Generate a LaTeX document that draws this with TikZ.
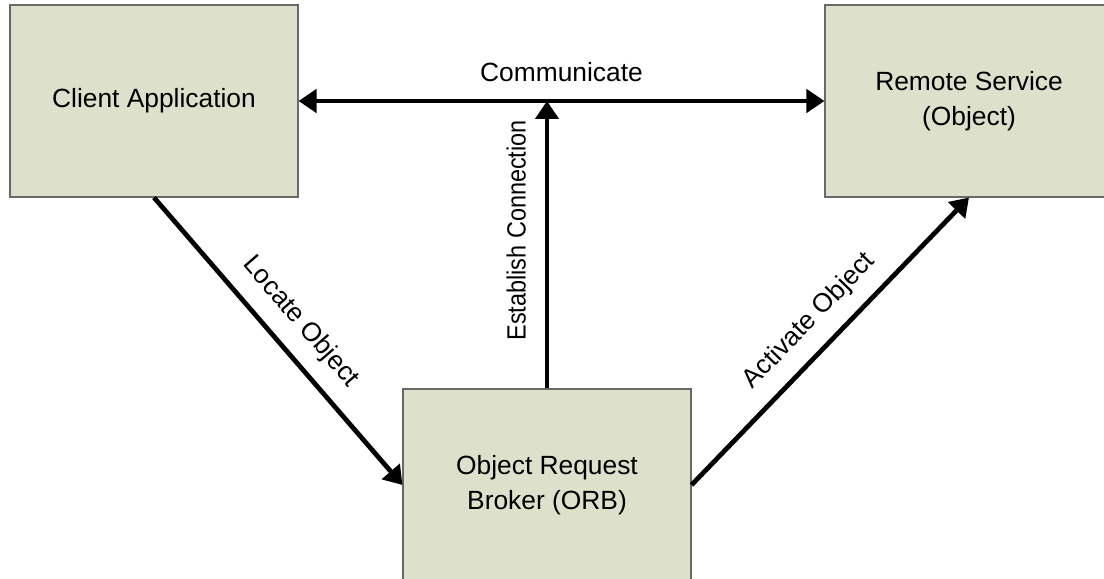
\documentclass[tikz,border=0pt]{standalone}
\usepackage{fontspec}
\setmainfont{Liberation Sans}
\usetikzlibrary{arrows.meta}
\definecolor{boxfill}{RGB}{221,224,203}
\definecolor{boxline}{RGB}{105,105,105}

\begin{document}
\begin{tikzpicture}[
    x=1cm, y=1cm,
    >={Triangle[length=3.6mm,width=4.6mm]},
    block/.style={draw=boxline, line width=0.6pt, fill=boxfill, minimum width=5.76cm, minimum height=3.84cm, align=center, inner sep=0pt, font=\fontsize{15}{20}\selectfont},
    lbl/.style={font=\fontsize{15}{18}\selectfont},
    arr/.style={line width=2.7pt}
  ]
  \useasboundingbox (0,0) rectangle (22.08,11.58);
  \clip (0,0) rectangle (22.08,11.58);
  \node[block] (client) at (3.08,9.56) {Client Application};
  \node[block] (remote) at (19.38,9.56) {Remote Service\\(Object)};
  \node[block] (orb) at (10.94,1.88) {Object Request\\Broker (ORB)};
  \coordinate (meet) at (orb.north |- client.east);
  \draw[arr, <->] (client.east) -- node[lbl, midway, above=2.2mm] {Communicate} (remote.west);
  \draw[arr, ->] (orb.north) -- node[lbl, pos=0.55, sloped, above=2.6mm] {\scalebox{0.89}[1]{Establish Connection}} (meet);
  \draw[arr, ->] (client.south) -- node[lbl, midway, sloped, above=1.8mm] {Locate Object} (orb.west);
  \draw[arr, ->] (orb.east) -- node[lbl, midway, sloped, above=1.7mm] {Activate Object} (remote.south);
\end{tikzpicture}
\end{document}
